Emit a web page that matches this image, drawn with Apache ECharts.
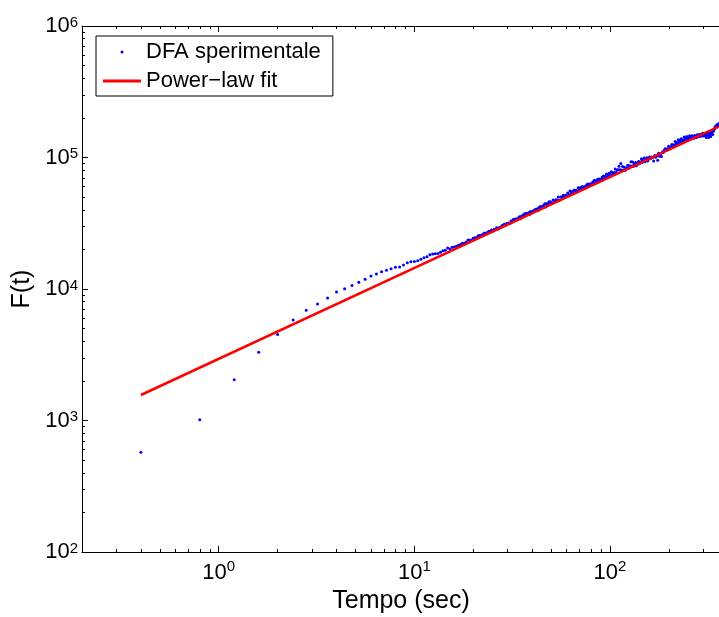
<!DOCTYPE html>
<html>
<head>
<meta charset="utf-8">
<script src="https://cdn.jsdelivr.net/npm/echarts@6/dist/echarts.min.js"></script>
<style>
html,body{margin:0;padding:0;background:#fff;}
#chart{width:719px;height:617px;}
</style>
</head>
<body>
<div id="chart"></div>
<script>
// ---- data ----
// upper / main trace of the DFA points
const dfaTime = [
  0.4,0.8,1.2,1.6,2.0,2.4,2.8,3.2,3.6,4.0,4.4,4.8,5.2,5.6,6.0,6.4,6.8,7.2,7.6,8.0,8.4,8.8,9.2,9.6,10.0,
  10.4,10.8,11.2,11.6,12.0,12.4,12.8,13.2,13.6,14.0,14.4,14.8,15.2,15.6,16.0,16.4,16.8,
  17.2,17.6,18.0,18.4,18.8,19.2,19.6,20.0,20.4,20.8,21.2,21.6,22.0,22.4,22.8,23.2,23.6,24.0,24.4,24.8,
  25.6,26.4,27.2,28.0,28.8,29.6,30.4,31.2,32.0,32.8,33.6,34.4,35.2,36.0,36.8,37.6,38.4,39.2,40.0,40.8,
  41.6,42.4,43.2,44.0,44.8,45.6,46.4,47.2,48.0,48.8,49.6,
  51.2,52.8,54.4,56.0,57.6,59.2,60.8,62.4,64.0,65.6,67.2,68.8,70.4,72.0,73.6,75.2,76.8,78.4,80.0,81.6,
  83.2,84.8,86.4,88.0,89.6,91.2,92.8,94.4,96.0,97.6,99.2,
  101.6,104.0,106.4,108.8,111.2,113.6,116.0,118.4,120.8,123.2,125.6,128.0,130.4,132.8,135.2,137.6,140.0,
  142.4,144.8,147.2,149.6,152.0,154.4,156.8,159.2,
  163.2,167.2,171.2,175.2,179.2,183.2,187.2,191.2,195.2,199.2,203.2,207.2,211.2,215.2,219.2,223.2,227.2,
  231.2,235.2,239.2,243.2,247.2,251.2,255.2,259.2,263.2,267.2,271.2,275.2,279.2,283.2,287.2,291.2,295.2,
  299.2,303.2,307.2,311.2,315.2,319.2,323.2,327.2,331.2,335.2,339.2,343.2,347.2,351.2,355.2,359.2
];
const dfaF = [
  573,1014,2042,3305,4500,5808,6885,7690,8550,9490,10050,10640,11250,11860,12560,13000,13520,13870,14270,14620,
  14700,15230,15850,16130,16200,16420,16820,17300,17610,18240,18450,18550,18600,19000,19540,19700,20500,20150,
  20740,20900,21120,21490,
  21760,22304,22262,22802,23552,23483,23614,24368,24490,24608,25373,25483,25584,26131,26684,26310,26857,27410,
  27485,28037,
  28415,29283,29373,30236,31103,31423,31728,32876,33748,34033,34306,35487,35742,36621,37510,37742,37963,38848,
  38714,39593,40481,40660,41550,42455,42240,43139,44435,44570,44698,46018,46130,
  47573,47752,50050,50175,51620,51691,53593,55524,55040,56485,56435,58893,58799,60255,59583,61013,63012,62798,
  63130,65129,67183,66309,68369,68632,68290,70978,72463,72056,74835,74397,75889,
  77836,76386,81789,80210,85823,90220,85325,84306,83274,87427,86291,92957,92529,88922,91616,89556,93035,92508,
  97780,95496,99134,95954,99576,96334,100824,
  100787,93907,100606,95303,102028,101813,108912,116475,116122,121975,120443,125337,124800,132097,130321,136661,
  134781,138818,135648,143397,140057,144148,140741,146074,142581,146642,143092,147126,142247,148824,146391,150428,
  145388,149346,145553,149504,145684,141907,148298,141907,148263,144358,150802,149402,158767,165768,170073,175987,
  174284,180318
];
// other edge of the dense, noisy band of DFA points (t > 25 s)
const dfaTimeBand = [
  25.2,26.0,26.8,27.6,28.4,29.2,30.0,30.8,31.6,32.4,33.2,34.0,34.8,35.6,36.4,37.2,38.0,38.8,39.6,40.4,41.2,
  42.0,42.8,43.6,44.4,45.2,46.0,46.8,47.6,48.4,49.2,
  50.4,52.0,53.6,55.2,56.8,58.4,60.0,61.6,63.2,64.8,66.4,68.0,69.6,71.2,72.8,74.4,76.0,77.6,79.2,80.8,82.4,
  84.0,85.6,87.2,88.8,90.4,92.0,93.6,95.2,96.8,98.4,
  100.4,102.8,105.2,107.6,110.0,112.4,114.8,117.2,119.6,122.0,124.4,126.8,129.2,131.6,134.0,136.4,138.8,
  141.2,143.6,146.0,148.4,150.8,153.2,155.6,158.0,
  161.2,165.2,169.2,173.2,177.2,181.2,185.2,189.2,193.2,197.2,201.2,205.2,209.2,213.2,217.2,221.2,225.2,
  229.2,233.2,237.2,241.2,245.2,249.2,253.2,257.2,261.2,265.2,269.2,273.2,277.2,281.2,285.2,289.2,293.2,
  297.2,301.2,305.2,309.2,313.2,317.2,321.2,325.2,329.2,333.2,337.2,341.2,345.2,349.2,353.2,357.2
];
const dfaFBand = [
  27616,28471,28570,29414,30535,30587,31438,31462,32306,33452,33430,34287,34241,35089,36265,36175,37035,
  36922,37777,38982,38828,39694,39517,40380,41616,41401,42276,42042,42912,44179,43908,
  45039,46024,47418,47552,49792,49880,51273,51761,53152,53138,55481,55427,56826,57225,58624,58478,60929,
  60742,62148,62463,63877,63609,66162,65855,67278,67521,68948,68565,71220,70799,72238,
  72609,74462,76993,76854,80818,80608,80386,80128,79849,83112,82775,86108,85719,85316,87921,86707,89306,
  89576,92236,91680,93543,92953,95636,94163,97698,
  98190,99873,103343,103203,107641,106478,110018,113632,113287,115925,116524,120210,120766,123445,126133,
  126627,130472,129791,133666,132922,136833,136008,138749,137850,140584,139628,142348,140098,144040,141732,
  146956,144553,148538,148648,152700,151437,151510,151544,155589,152907,155588,154195,158264,156818,160918,
  165095,172386,169264,178223,176512
];
const fitTime = [0.4, 360];
const fitF = [1563, 172000];

const seriesNames = ['DFA sperimentale', 'Power\u2212law fit'];
const xTitle = 'Tempo (sec)';
const yTitle = 'F(t)';

const xRange = [0.2, 365];
const yRange = [100, 1000000];
const xMajorExp = [0, 1, 2];
const yMajorExp = [2, 3, 4, 5, 6];
const xMinorTicks = [0.3,0.4,0.5,0.6,0.7,0.8,0.9, 2,3,4,5,6,7,8,9, 20,30,40,50,60,70,80,90, 200,300];
const yMinorTicks = [200,300,400,500,600,700,800,900, 2000,3000,4000,5000,6000,7000,8000,9000,
  20000,30000,40000,50000,60000,70000,80000,90000, 200000,300000,400000,500000,600000,700000,800000,900000];

// ---- chart ----
const FONT = '"Liberation Sans", Arial, Helvetica, sans-serif';
const lg = v => Math.log10(v);
const xMin = lg(xRange[0]), xMax = lg(xRange[1]);
const yMin = lg(yRange[0]), yMax = lg(yRange[1]);
const supLabel = v => '{b|10}{s|' + Math.round(v) + '}';

const richX = {
  b: {fontSize: 22, lineHeight: 22, padding: [6, 0, 0, 0], fontFamily: FONT, color: '#000'},
  s: {fontSize: 15, lineHeight: 15, verticalAlign: 'top', fontFamily: FONT, color: '#000'}
};
const richY = {
  b: {fontSize: 22, lineHeight: 22, padding: [6, 0, 6, 0], fontFamily: FONT, color: '#000'},
  s: {fontSize: 15, lineHeight: 15, verticalAlign: 'top', fontFamily: FONT, color: '#000'}
};

function tickAxis(dim, pos, vals, len, showLine, extra) {
  const ax = {
    type: 'value', gridIndex: 0, position: pos,
    min: dim === 'x' ? xMin : yMin, max: dim === 'x' ? xMax : yMax,
    axisLine: {show: showLine, onZero: false, lineStyle: {color: '#000', width: 1}},
    axisTick: {show: true, inside: true, length: len, customValues: vals, lineStyle: {color: '#000', width: 1}},
    axisLabel: {show: false},
    splitLine: {show: false},
    minorTick: {show: false}
  };
  return Object.assign(ax, extra || {});
}

const dfaPoints = dfaTime.map((t, i) => [t, dfaF[i]])
  .concat(dfaTimeBand.map((t, i) => [t, dfaFBand[i]]));

const chart = echarts.init(document.getElementById('chart'), null, {renderer: 'canvas'});
chart.setOption({
  animation: false,
  backgroundColor: '#fff',
  grid: {left: 82, top: 26, width: 638, height: 526, containLabel: false, outerBoundsMode: 'none'},
  legend: {
    orient: 'vertical', left: 96, top: 36, padding: [5, 12, 4, 7], itemGap: 7,
    itemWidth: 38, itemHeight: 3, borderColor: '#000', borderWidth: 1, borderRadius: 0,
    backgroundColor: '#fff',
    textStyle: {fontSize: 22, color: '#000', fontFamily: FONT},
    data: [{name: seriesNames[0], icon: 'circle'}, {name: seriesNames[1], icon: 'rect'}]
  },
  xAxis: [
    {type: 'log', logBase: 10, gridIndex: 0, min: xRange[0], max: xRange[1], show: false},
    tickAxis('x', 'bottom', xMajorExp, 6, true, {
      axisLabel: {show: true, customValues: xMajorExp, formatter: supLabel, margin: 7, rich: richX},
      name: xTitle, nameLocation: 'middle', nameGap: 35,
      nameTextStyle: {fontSize: 25, color: '#000', fontFamily: FONT}
    }),
    tickAxis('x', 'bottom', xMinorTicks.map(lg), 3, false),
    tickAxis('x', 'top', xMajorExp, 6, true),
    tickAxis('x', 'top', xMinorTicks.map(lg), 3, false)
  ],
  yAxis: [
    {type: 'log', logBase: 10, gridIndex: 0, min: yRange[0], max: yRange[1], show: false},
    tickAxis('y', 'left', yMajorExp, 6, true, {
      axisLabel: {show: true, customValues: yMajorExp, formatter: supLabel, margin: 4, rich: richY},
      name: yTitle, nameLocation: 'middle', nameGap: 41, nameRotate: 90,
      nameTextStyle: {fontSize: 25, color: '#000', fontFamily: FONT}
    }),
    tickAxis('y', 'left', yMinorTicks.map(lg), 3, false)
  ],
  series: [
    {
      type: 'scatter', name: seriesNames[0], xAxisIndex: 0, yAxisIndex: 0,
      data: dfaPoints,
      symbol: 'circle', symbolSize: 3, color: '#0000ff',
      itemStyle: {color: '#0000ff', opacity: 1}, z: 2, silent: true
    },
    {
      type: 'line', name: seriesNames[1], xAxisIndex: 0, yAxisIndex: 0,
      data: fitTime.map((t, i) => [t, fitF[i]]),
      symbol: 'none', showSymbol: false, color: '#ff0000',
      itemStyle: {color: '#ff0000'},
      lineStyle: {color: '#ff0000', width: 2.5}, z: 3, silent: true
    }
  ]
});
</script>
</body>
</html>
